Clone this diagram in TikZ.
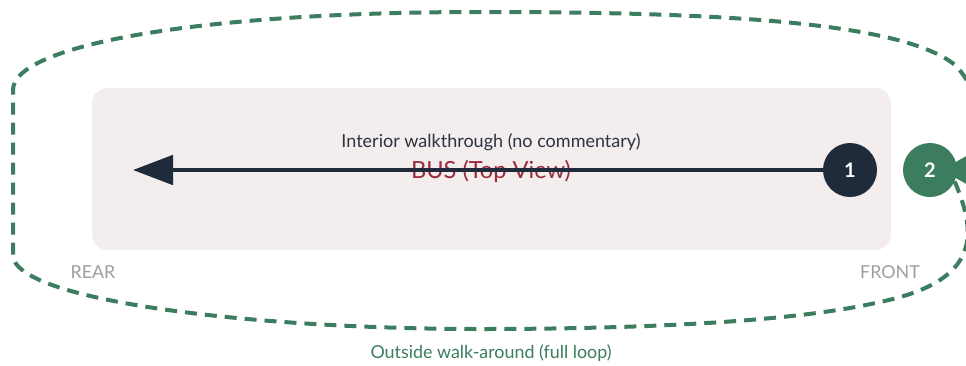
\documentclass[tikz,border=0pt]{standalone}
\usepackage{fontspec}
\setmainfont{Lato}
\usetikzlibrary{arrows.meta}
\definecolor{busfill}{HTML}{F3EDED}
\definecolor{navy}{HTML}{1F2A3A}
\definecolor{walkgreen}{HTML}{3B7D5E}
\definecolor{busred}{HTML}{9B2C3C}
\definecolor{labelgray}{HTML}{9E9E9E}
\definecolor{textdark}{HTML}{2D3340}
\begin{document}
\begin{tikzpicture}[x=0.75pt,y=-0.75pt,
  stopdot/.style={circle,minimum size=40.5pt,inner sep=0pt,text=white,font=\fontsize{15}{17}\selectfont\bfseries},
  sidelabel/.style={text=labelgray,font=\fontsize{13.4}{15}\selectfont},
  loopline/.style={walkgreen,line width=3pt,dash pattern=on 9pt off 6pt}]
\useasboundingbox (0,0) rectangle (966,365);
\clip (0,0) rectangle (966,365);

\fill[busfill,rounded corners=12pt] (92,88) rectangle (891,250);
\node[font=\fontsize{17.7}{20}\selectfont,text=busred] (bus) at (491,171) {BUS (Top View)};
\node[font=\fontsize{13.5}{15}\selectfont,text=textdark] (inside) at (491,142) {Interior walkthrough (no commentary)};
\node[sidelabel] (rear) at (93,272) {REAR};
\node[sidelabel] (front) at (890,272) {FRONT};
\node[font=\fontsize{13.4}{15}\selectfont,text=walkgreen] (outside) at (491,353) {Outside walk-around (full loop)};

\node[stopdot,fill=navy] (s1) at (850,170) {1};
\node[stopdot,fill=walkgreen] (s2) at (930,170) {2};
\coordinate (rearend) at (133,170);

\draw[navy,line width=3pt,-{Triangle[length=30pt,width=22pt]}] (s1) -- (rearend);

\draw[loopline,shorten >=9pt,-{Triangle[length=18pt,width=20pt,fill=walkgreen]}] (s2.-25)
  .. controls (975,230) and (985,280) .. (880,302)
  .. controls (780,325) and (600,329) .. (480,329)
  .. controls (250,329) and (13,300) .. (13,255) -- (13,90)
  .. controls (13,45) and (200,12) .. (480,12)
  .. controls (700,12) and (900,20) .. (955,65)
  .. controls (990,100) and (985,170) .. (s2.center);
\end{tikzpicture}
\end{document}
